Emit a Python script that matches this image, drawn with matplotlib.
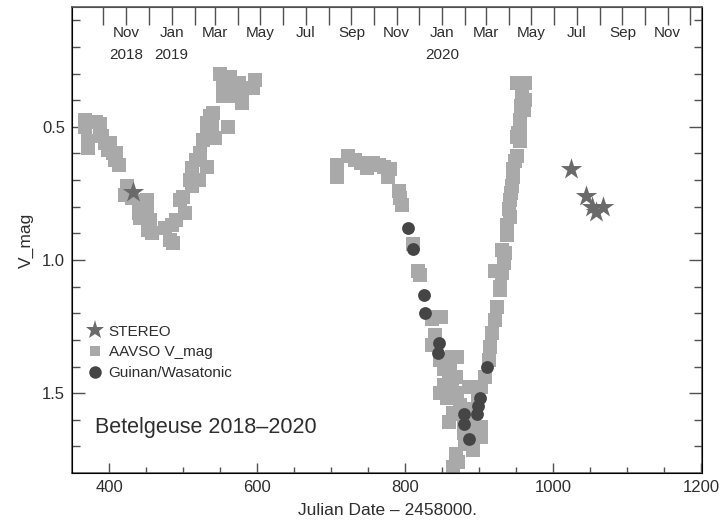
import numpy as np
import matplotlib
matplotlib.use("Agg")
import matplotlib.pyplot as plt
from matplotlib.lines import Line2D
import matplotlib.transforms as mtransforms

plt.rcParams['font.family'] = ['Liberation Sans', 'DejaVu Sans']

# AAVSO V magnitudes (JD - 2458000, V mag)
aavso_jd = [367, 367, 372, 372, 383, 388, 388, 390, 395, 401, 399, 406, 410, 408, 413,
            424, 422, 431, 440, 451, 451, 440, 442, 455, 453, 458, 476, 485, 491, 503,
            482, 487, 496, 500, 512, 509, 512, 521, 518, 523, 532, 527, 532, 532, 536,
            541, 539, 543, 561, 550, 563, 554, 554, 568, 568, 579, 579, 575, 597, 595,
            708, 708, 723, 732, 741, 748, 757, 765, 771, 780, 777, 791, 793, 796,
            811, 818, 820, 836, 840, 849, 840, 836, 847, 852, 863, 870, 859, 847, 863,
            865, 886, 874, 859, 865, 879, 888, 903, 879, 892, 903, 881, 892, 868, 872,
            865, 856, 860, 852, 868, 870, 856, 875, 884, 890,
            899, 903, 908, 913, 915, 917, 922, 924, 928, 928, 922, 931, 933, 931, 935,
            938, 938, 940, 942, 944, 946, 951, 955, 953, 955, 960, 958, 951, 962, 956,
            962, 955, 951, 943, 941, 945, 949, 957]
aavso_mag = [0.474, 0.50, 0.555, 0.58, 0.48, 0.49, 0.518, 0.536, 0.56, 0.56, 0.586, 0.60, 0.60, 0.624, 0.643,
             0.724, 0.755, 0.768, 0.78, 0.774, 0.806, 0.824, 0.843, 0.85, 0.887, 0.90, 0.88, 0.868, 0.85, 0.824,
             0.925, 0.937, 0.774, 0.762, 0.724, 0.70, 0.655, 0.70, 0.624, 0.60, 0.65, 0.55, 0.524, 0.486, 0.46,
             0.449, 0.499, 0.542, 0.499, 0.30, 0.311, 0.355, 0.386, 0.342, 0.386, 0.36, 0.41, 0.336, 0.323, 0.355,
             0.643, 0.69, 0.61, 0.624, 0.637, 0.655, 0.637, 0.645, 0.65, 0.66, 0.687, 0.74, 0.768, 0.793,
             0.94, 1.04, 1.056, 1.22, 1.213, 1.213, 1.28, 1.32, 1.376, 1.41, 1.363, 1.363, 1.45, 1.50, 1.476,
             1.52, 1.476, 1.545, 1.61, 1.576, 1.60, 1.627, 1.627, 1.65, 1.677, 1.664, 1.69, 1.714, 1.727, 1.76,
             1.777, 1.40, 1.39, 1.47, 1.44, 1.50, 1.52, 1.58, 1.56, 1.58,
             1.51, 1.476, 1.44, 1.376, 1.326, 1.275, 1.225, 1.175, 1.113, 1.10, 1.04, 1.05, 1.01, 0.962, 0.975,
             0.906, 0.868, 0.81, 0.774, 0.724, 0.66, 0.61, 0.555, 0.524, 0.474, 0.436, 0.386, 0.336, 0.336, 0.336,
             0.40, 0.50, 0.54, 0.75, 0.84, 0.69, 0.63, 0.42]

# Guinan / Wasatonic photometry
guinan_jd = [804, 810, 825, 827, 846, 844, 910, 901, 899, 897, 879, 879, 886]
guinan_mag = [0.88, 0.957, 1.13, 1.20, 1.31, 1.35, 1.40, 1.52, 1.55, 1.58, 1.58, 1.615, 1.672]

# STEREO
stereo_jd = [433, 1024, 1044, 1052, 1058, 1067]
stereo_mag = [0.745, 0.66, 0.76, 0.80, 0.82, 0.80]

# top axis: calendar months
top_label_dates = np.arange('2018-11', '2021-01', 2, dtype='datetime64[M]')
top_months = ["Nov", "Jan", "Mar", "May", "Jul", "Sep", "Nov",
              "Jan", "Mar", "May", "Jul", "Sep", "Nov"]
top_years = ["2018", "2019", "", "", "", "", "", "2020", "", "", "", "", ""]
month_tick_dates = np.arange('2018-10', '2021-01', dtype='datetime64[M]')

jd0 = np.datetime64('2017-09-03T12:00')


def to_jd(d):
    return (d.astype('datetime64[m]') - jd0) / np.timedelta64(1, 'D')


spine_col = '#505050'
text_col = '#2e2e2e'

fig = plt.figure(figsize=(7.26, 5.24), dpi=100)
ax = fig.add_axes([0.0992, 0.0973, 0.8678, 0.8893])

ax.scatter(aavso_jd, aavso_mag, marker='s', s=95, color='#a9a9a9', linewidths=0, zorder=2)
ax.scatter(guinan_jd, guinan_mag, marker='o', s=85, color='#454545', linewidths=0, zorder=3)
ax.scatter(stereo_jd, stereo_mag, marker='*', s=260, color='#6a6a6a', linewidths=0, zorder=4)

ax.set_xlim(350, 1201)
ax.set_ylim(1.8, 0.05)
ax.set_xticks([400, 600, 800, 1000, 1200])
ax.set_xticks(np.arange(400, 1201, 50), minor=True)
ax.set_yticks([0.5, 1.0, 1.5])
ax.set_yticks(np.arange(0.1, 1.8, 0.1), minor=True)
ax.yaxis.set_major_formatter(lambda v, pos: f"{v:.1f}")

ax.tick_params(axis='x', which='major', direction='in', length=7.5, width=1,
               top=False, bottom=True, labelsize=12, pad=5, colors=spine_col, labelcolor=text_col)
ax.tick_params(axis='x', which='minor', direction='in', length=4, width=1,
               top=False, bottom=True, colors=spine_col)
ax.tick_params(axis='y', which='major', direction='in', length=9.5, width=1,
               left=True, right=True, labelsize=12, pad=5, colors=spine_col, labelcolor=text_col)
ax.tick_params(axis='y', which='minor', direction='in', length=5.5, width=1,
               left=True, right=True, colors=spine_col)
for sp in ax.spines.values():
    sp.set_color(spine_col)
    sp.set_linewidth(1.1)

ax.set_xlabel("Julian Date \u2013 2458000.", fontsize=12.5, color=text_col, labelpad=6)
ax.set_ylabel("V_mag", fontsize=12.5, color=text_col, labelpad=6)

# month ticks along the top
ax_top = ax.twiny()
ax_top.set_xlim(ax.get_xlim())
ax_top.set_xticks(to_jd(month_tick_dates))
ax_top.tick_params(axis='x', direction='in', length=13, width=1, colors=spine_col,
                   labeltop=False, labelbottom=False)
ax_top.spines['top'].set_color(spine_col)

trans = mtransforms.blended_transform_factory(ax.transData, ax.transAxes)
for d, m, yr in zip(to_jd(top_label_dates), top_months, top_years):
    ax.text(d, 0.944, m, transform=trans, ha='center', va='center', fontsize=11, color=text_col)
    if yr:
        ax.text(d, 0.897, yr, transform=trans, ha='center', va='center', fontsize=11, color=text_col)

handles = [
    Line2D([], [], ls='none', marker='*', markersize=14, color='#6a6a6a', markeredgewidth=0),
    Line2D([], [], ls='none', marker='s', markersize=6.5, color='#a9a9a9', markeredgewidth=0),
    Line2D([], [], ls='none', marker='o', markersize=9, color='#454545', markeredgewidth=0),
]
leg = ax.legend(handles, ["STEREO", "AAVSO V_mag", "Guinan/Wasatonic"], loc='upper left',
                bbox_to_anchor=(0.012, 0.335), frameon=False, fontsize=11,
                handlelength=1.0, handletextpad=0.4, labelspacing=0.45, borderpad=0)
for t in leg.get_texts():
    t.set_color(text_col)

ax.text(0.0365, 0.0987, "Betelgeuse 2018\u20132020", transform=ax.transAxes,
        fontsize=15.5, color=text_col, ha='left', va='center')

fig.savefig("out.png", dpi=100)
